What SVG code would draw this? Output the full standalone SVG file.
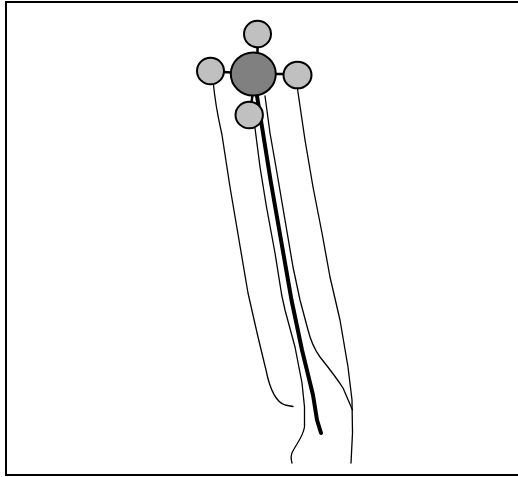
<svg xmlns="http://www.w3.org/2000/svg" width="518" height="477" viewBox="0 0 518 477">
<style>
.frame{fill:none;stroke:#000;stroke-width:2}
.tail{fill:none;stroke:#000;stroke-width:1.3;stroke-linecap:round;stroke-linejoin:round}
.thick{fill:none;stroke:#000;stroke-width:4;stroke-linecap:round;stroke-linejoin:round}
.stub{stroke:#000;stroke-width:2.5}
.small{fill:#c0c0c0;stroke:#000;stroke-width:2}
.big{fill:#808080;stroke:#000;stroke-width:2}
</style>
<rect class="frame" x="6" y="2" width="522" height="473"/>
<g id="connectors">
<path class="tail" d="M213.5,85 C216,110 220,125 222,135 L230,187 L239,240 L248,293 L258,337 L266,370 C270,390 276,402 285,405 L293,406.5"/>
<path class="tail" d="M297.5,89 L305,140 L313,187 L322,233 L330,277 L340,320 L348,367 L352,400 L352.5,433 L351,463"/>
<path class="tail" d="M255,128 L260,167 L266.5,207 L275,253 L281.7,295 L285,310 L295,347 L302,383 L304.5,407 L304.5,427 C303,436 298,442 294,449 C290,455 291,459 292,463"/>
<path class="tail" d="M265,96 L270,133 L277,173 L285,220 L293,267 L300,300 L308,330 C311,342 315,350 320,357 C328,367 336,377 343,388 L352.5,410"/>
<path class="thick" d="M257,96 L263,133 L270.5,180 L281,240 L291.5,300 L302,350 L313,395 L317,420 L321,433"/>
<line class="stub" x1="257.5" y1="46" x2="257.5" y2="53"/>
<line class="stub" x1="223" y1="72" x2="232" y2="72.5"/>
<line class="stub" x1="274" y1="74" x2="285" y2="74"/>
<line class="stub" x1="252.5" y1="94" x2="251.5" y2="103"/>
</g>
<g id="node-center"><ellipse class="big" cx="253.3" cy="74" rx="22.5" ry="21.5"/></g>
<g id="node-top"><ellipse class="small" cx="257.5" cy="34" rx="13.5" ry="13.3"/></g>
<g id="node-left"><ellipse class="small" cx="210.5" cy="71" rx="13.5" ry="13.3"/></g>
<g id="node-right"><ellipse class="small" cx="297.5" cy="75" rx="14" ry="13.3"/></g>
<g id="node-bottom"><ellipse class="small" cx="249.2" cy="115" rx="13.7" ry="13.3"/></g>
</svg>
